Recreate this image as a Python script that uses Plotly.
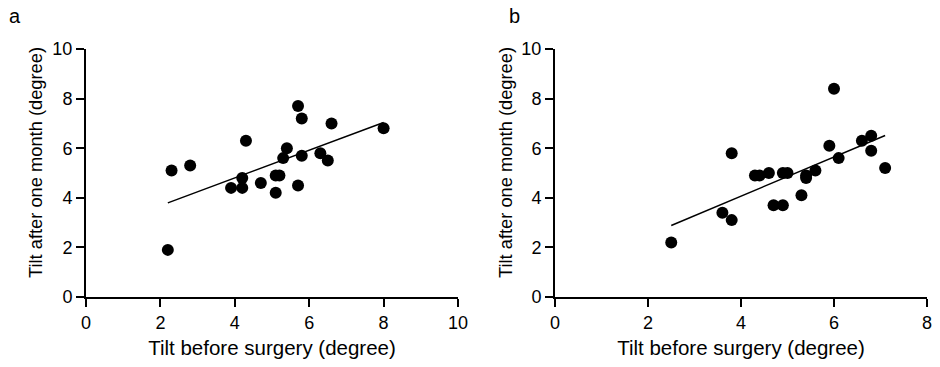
import numpy as np
import plotly.graph_objects as go

# Panel a data
a_before = [2.2, 2.3, 2.8, 3.9, 4.2, 4.2, 4.3, 4.7, 5.1, 5.1, 5.2, 5.3, 5.4, 5.7, 5.8, 5.8, 5.7, 6.3, 6.5, 6.6, 8.0]
a_after = [1.9, 5.1, 5.3, 4.4, 4.4, 4.8, 6.3, 4.6, 4.2, 4.9, 4.9, 5.6, 6.0, 7.7, 7.2, 5.7, 4.5, 5.8, 5.5, 7.0, 6.8]

# Panel b data
b_before = [2.5, 3.6, 3.8, 3.8, 4.3, 4.4, 4.6, 4.7, 4.9, 4.9, 5.0, 5.3, 5.4, 5.4, 5.6, 5.9, 6.0, 6.1, 6.6, 6.8, 6.8, 7.1]
b_after = [2.2, 3.4, 3.1, 5.8, 4.9, 4.9, 5.0, 3.7, 3.7, 5.0, 5.0, 4.1, 4.8, 4.9, 5.1, 6.1, 8.4, 5.6, 6.3, 6.5, 5.9, 5.2]

a_xticks = [0, 2, 4, 6, 8, 10]
b_xticks = [0, 2, 4, 6, 8]
yticks = [0, 2, 4, 6, 8, 10]

panel_labels = ["a", "b"]
x_title = "Tilt before surgery (degree)"
y_title = "Tilt after one month (degree)"

FONT = "Liberation Sans, Arial, sans-serif"
W, H = 940, 367

fig = go.Figure()


def add_panel(xs, ys, xa, ya):
    fig.add_trace(go.Scatter(x=xs, y=ys, mode="markers", xaxis=xa, yaxis=ya,
                             marker=dict(size=12, color="black"), showlegend=False,
                             cliponaxis=False))
    k, b = np.polyfit(xs, ys, 1)
    lx = [min(xs), max(xs)]
    ly = [k * v + b for v in lx]
    fig.add_trace(go.Scatter(x=lx, y=ly, mode="lines", xaxis=xa, yaxis=ya,
                             line=dict(color="black", width=1.5), showlegend=False))


add_panel(a_before, a_after, "x", "y")
add_panel(b_before, b_after, "x2", "y2")

ydom = [(H - 297) / H, (H - 49) / H]

axis_common = dict(showline=True, linewidth=2, linecolor="black", ticks="outside",
                   ticklen=8, tickwidth=2, tickcolor="black", showgrid=False,
                   zeroline=False, automargin=False,
                   tickfont=dict(family=FONT, size=18, color="black"))
xtitle_font = dict(family=FONT, size=20.5, color="black")

fig.update_layout(
    width=W, height=H,
    margin=dict(l=0, r=0, t=0, b=0),
    paper_bgcolor="white", plot_bgcolor="white",
    xaxis=dict(domain=[86 / W, 458 / W], range=[0, 10], tickvals=a_xticks,
               anchor="y", title=dict(text=x_title, font=xtitle_font, standoff=9),
               **axis_common),
    yaxis=dict(domain=ydom, range=[0, 10], tickvals=yticks, anchor="x", **axis_common),
    xaxis2=dict(domain=[555 / W, 927 / W], range=[0, 8], tickvals=b_xticks,
                anchor="y2", title=dict(text=x_title, font=xtitle_font, standoff=9),
                **axis_common),
    yaxis2=dict(domain=ydom, range=[0, 10], tickvals=yticks, anchor="x2", **axis_common),
)

# y-axis titles
for px in [35, 505]:
    fig.add_annotation(text=y_title, x=px / W, y=1 - 163 / H, xref="paper", yref="paper",
                       showarrow=False, textangle=-90, xanchor="center", yanchor="middle",
                       font=dict(family=FONT, size=18.3, color="black"))

for lab, px in zip(panel_labels, [15, 514]):
    fig.add_annotation(text=lab, x=px / W, y=1 - 16 / H, xref="paper", yref="paper",
                       showarrow=False, xanchor="center", yanchor="middle",
                       font=dict(family=FONT, size=20, color="black"))

fig.write_html("out.html", config={"displayModeBar": False},
               post_script="document.body.style.margin='0';")
